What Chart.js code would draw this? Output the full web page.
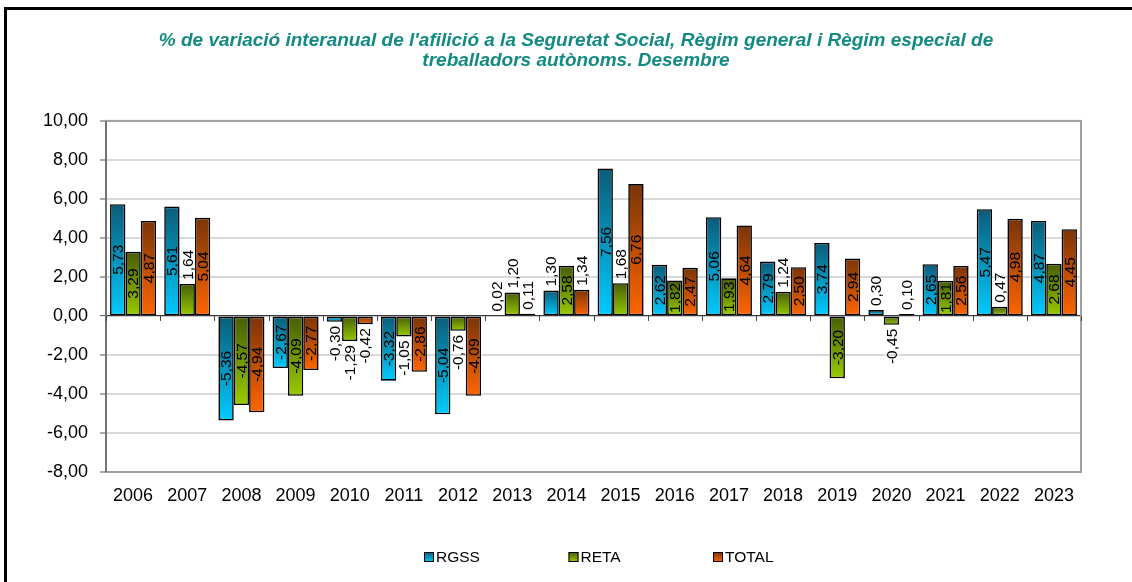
<!DOCTYPE html>
<html>
<head>
<meta charset="utf-8">
<script src="https://cdn.jsdelivr.net/npm/chart.js@4/dist/chart.umd.min.js"></script>
<style>
  html, body { margin: 0; padding: 0; background: #fff; }
  #wrap { position: relative; width: 1132px; height: 582px; overflow: hidden; }
  #frame { position: absolute; left: 4px; top: 7px; width: 1200px; height: 700px;
           border-top: 3px solid #000; border-left: 3px solid #000; pointer-events: none; }
  canvas { position: absolute; left: 0; top: 0; }
</style>
</head>
<body>
<div id="wrap">
  <canvas id="chart" width="1132" height="582"></canvas>
  <div id="frame"></div>
</div>
<script>
// categories and series
const years = ['2006', '2007', '2008', '2009', '2010', '2011', '2012', '2013', '2014',
               '2015', '2016', '2017', '2018', '2019', '2020', '2021', '2022', '2023'];
const rgss  = [5.73, 5.61, -5.36, -2.67, -0.30, -3.32, -5.04, 0.02, 1.30,
               7.56, 2.62, 5.06, 2.79, 3.74, 0.30, 2.65, 5.47, 4.87];
const reta  = [3.29, 1.64, -4.57, -4.09, -1.29, -1.05, -0.76, 1.20, 2.58,
               1.68, 1.82, 1.93, 1.24, -3.20, -0.45, 1.81, 0.47, 2.68];
const total = [4.87, 5.04, -4.94, -2.77, -0.42, -2.86, -4.09, 0.11, 1.34,
               6.76, 2.47, 4.64, 2.50, 2.94, 0.10, 2.56, 4.98, 4.45];
const yTicks = [-8, -6, -4, -2, 0, 2, 4, 6, 8, 10];

const FONT = "'Liberation Sans', Arial, sans-serif";
const fmt = v => v.toFixed(2).replace('.', ',');

// dark top -> bright bottom, per bar
const colors = {
  RGSS:  ['#0b5c78', '#00ccff'],
  RETA:  ['#475c08', '#99cc00'],
  TOTAL: ['#7a3408', '#ff6600']
};

function barGradient(pair) {
  return function (context) {
    const chart = context.chart;
    if (context.type !== 'data' || !chart.chartArea) return pair[1];
    const y = chart.scales.y;
    const y1 = y.getPixelForValue(context.raw);
    const y0 = y.getPixelForValue(0);
    const g = chart.ctx.createLinearGradient(0, Math.min(y0, y1), 0, Math.max(y0, y1) + 0.5);
    g.addColorStop(0, pair[0]);
    g.addColorStop(1, pair[1]);
    return g;
  };
}

function makeSet(label, data) {
  return {
    label: label,
    data: data,
    backgroundColor: barGradient(colors[label]),
    borderColor: '#000',
    borderWidth: 1.6,
    borderSkipped: false,
    categoryPercentage: 0.85,
    barPercentage: 1.0
  };
}

// frame, zero-line ticks, value labels and legend
const extras = {
  id: 'extras',
  beforeDatasetsDraw(chart) {
    const {ctx, chartArea: a, scales: {x, y}} = chart;
    ctx.save();
    ctx.strokeStyle = '#a0a0a0';
    ctx.lineWidth = 2;
    ctx.strokeRect(a.left, a.top, a.right - a.left, a.bottom - a.top);
    ctx.strokeStyle = '#555';
    ctx.lineWidth = 1.2;
    ctx.beginPath();
    ctx.moveTo(a.left, a.top); ctx.lineTo(a.left, a.bottom);
    ctx.stroke();
    // category boundary ticks on the zero line
    const y0 = y.getPixelForValue(0);
    const step = x.getPixelForValue(1) - x.getPixelForValue(0);
    ctx.strokeStyle = '#444';
    ctx.lineWidth = 1;
    ctx.beginPath();
    for (let i = 0; i <= years.length; i++) {
      const px = Math.round(x.getPixelForValue(i) - step / 2) + 0.5;
      ctx.moveTo(px, y0); ctx.lineTo(px, y0 + 5);
    }
    ctx.stroke();
    ctx.restore();
  },
  afterDatasetsDraw(chart) {
    const {ctx} = chart;
    ctx.save();
    ctx.font = '15.5px ' + FONT;
    ctx.fillStyle = '#000';
    ctx.textAlign = 'center';
    ctx.textBaseline = 'middle';
    chart.data.datasets.forEach((ds, di) => {
      chart.getDatasetMeta(di).data.forEach((bar, i) => {
        const v = ds.data[i];
        const txt = fmt(v);
        const w = ctx.measureText(txt).width;
        const h = Math.abs(bar.base - bar.y);
        let cy;
        if (h >= 34) cy = (bar.y + bar.base) / 2;
        else if (v >= 0) cy = bar.y - 4 - w / 2;
        else cy = bar.y + 4 + w / 2;
        ctx.save();
        ctx.translate(bar.x, cy);
        ctx.rotate(-Math.PI / 2);
        ctx.fillText(txt, 0, 1);
        ctx.restore();
      });
    });
    // legend
    const a = chart.chartArea;
    const cx = (a.left + a.right) / 2;
    const ly = 557;
    ctx.textAlign = 'left';
    chart.data.datasets.forEach((ds, di) => {
      const sx = cx - 25 + (di - 1) * 144.5;
      const pair = colors[ds.label];
      const g = ctx.createLinearGradient(0, ly - 5, 0, ly + 5);
      g.addColorStop(0, pair[0]);
      g.addColorStop(1, pair[1]);
      ctx.fillStyle = g;
      ctx.fillRect(sx, ly - 5, 10, 10);
      ctx.strokeStyle = '#000';
      ctx.lineWidth = 1;
      ctx.strokeRect(sx + 0.5, ly - 4.5, 9, 9);
      ctx.fillStyle = '#000';
      ctx.font = '15.5px ' + FONT;
      ctx.fillText(ds.label, sx + 12, ly + 1);
    });
    ctx.restore();
  }
};

new Chart(document.getElementById('chart'), {
  type: 'bar',
  data: {
    labels: years,
    datasets: [makeSet('RGSS', rgss), makeSet('RETA', reta), makeSet('TOTAL', total)]
  },
  options: {
    responsive: false,
    animation: false,
    layout: { padding: { left: 20, right: 0, top: 0, bottom: 70 } },
    plugins: {
      legend: { display: false },
      tooltip: { enabled: false },
      title: {
        display: true,
        text: ["% de variació interanual de l'afilició a la Seguretat Social, Règim general i Règim especial de",
               'treballadors autònoms. Desembre'],
        color: '#138a82',
        font: { family: FONT, size: 19, weight: 'bold', style: 'italic', lineHeight: 1.05 },
        padding: { top: 31, bottom: 50 }
      }
    },
    scales: {
      x: {
        grid: { display: false, drawTicks: false },
        border: { display: true, color: '#a0a0a0', width: 2 },
        ticks: { color: '#000', font: { family: FONT, size: 18 }, padding: 13, maxRotation: 0, autoSkip: false },
        afterFit(scale) { scale.height = 40; }
      },
      y: {
        min: yTicks[0],
        max: yTicks[yTicks.length - 1],
        afterBuildTicks(scale) { scale.ticks = yTicks.map(v => ({ value: v })); },
        grid: {
          color: c => (c.tick && c.tick.value === 0) ? '#3a3a3a' : '#d9d9d9',
          lineWidth: c => (c.tick && c.tick.value === 0) ? 1.2 : 2,
          tickColor: '#555',
          tickWidth: 1,
          tickLength: 6
        },
        border: { display: true, color: '#555', width: 1.2 },
        ticks: { color: '#000', font: { family: FONT, size: 18 }, padding: 12, callback: v => fmt(v) },
        afterFit(scale) { scale.width = 86; }
      },
      // empty axis that only reserves the space right of the plot
      yRight: {
        position: 'right',
        display: true,
        grid: { display: false, drawTicks: false },
        border: { display: false },
        ticks: { display: false },
        afterFit(scale) { scale.width = 51; }
      }
    }
  },
  plugins: [extras]
});
</script>
</body>
</html>
